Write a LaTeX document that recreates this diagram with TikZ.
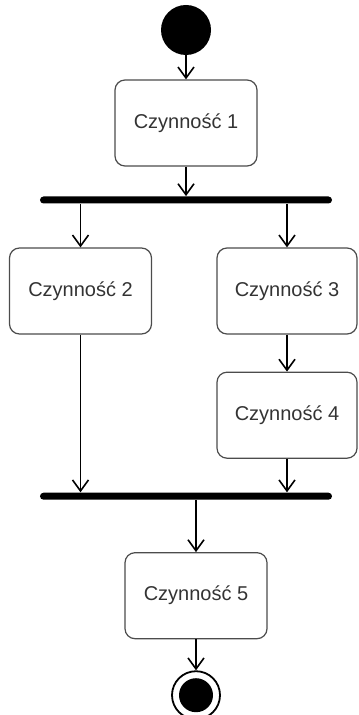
\documentclass[tikz,border=0pt]{standalone}
\usepackage{fontspec}
\setmainfont{Liberation Sans}
\usetikzlibrary{positioning,arrows.meta}

\begin{document}
\begin{tikzpicture}[
    act/.style={draw=black!70,line width=0.6pt,rounded corners=5pt,minimum width=71pt,minimum height=43pt,
      font=\fontsize{10}{12}\selectfont,text=black!80},
    bar/.style={fill=black,minimum width=146pt,minimum height=3.5pt,inner sep=0pt,rounded corners=1.75pt},
    flow/.style={line width=0.8pt,-{Straight Barb[length=5.5pt,width=8pt]}},
    node distance=12pt] %
    \useasboundingbox (-93pt,15pt) rectangle (86pt,-342.5pt); %
    \node[circle,fill=black,minimum size=25pt,inner sep=0pt] (start) at (0,0) {}; %
    \node[act, below=of start] (act1) {Czynność 1}; %
    \node[bar, below=14.75pt of act1] (fork) {}; %
    \node[act, below=21.75pt of fork, xshift=-52.75pt] (act2) {Czynność 2}; %
    \node[act, below=21.75pt of fork, xshift=50.5pt, minimum width=70pt] (act3) {Czynność 3}; %
    \node[act, below=18.5pt of act3, minimum width=70pt] (act4) {Czynność 4}; %
    \node[bar, below=16.75pt of act4, xshift=-50.5pt] (join) {}; %
    \node[act, below=26pt of join, xshift=5pt] (act5) {Czynność 5}; %
    \node[circle,draw,line width=0.9pt,minimum size=24pt,inner sep=0pt, below=15.5pt of act5] (end) {}; %
    \fill (end) circle (8.5pt); %
    \draw[flow] (start)--(act1); %
    \draw[flow] (act1)--(fork); %
    \draw[flow] (fork.south -| act2)--(act2); %
    \draw[flow] (fork.south -| act3)--(act3); %
    \draw[flow] (act3)--(act4); %
    \draw[flow] (act2)--(join.north -| act2); %
    \draw[flow] (act4)--(join.north -| act4); %
    \draw[flow] (join.south -| act5)--(act5); %
    \draw[flow] (act5)--(end); %
\end{tikzpicture}
\end{document}
